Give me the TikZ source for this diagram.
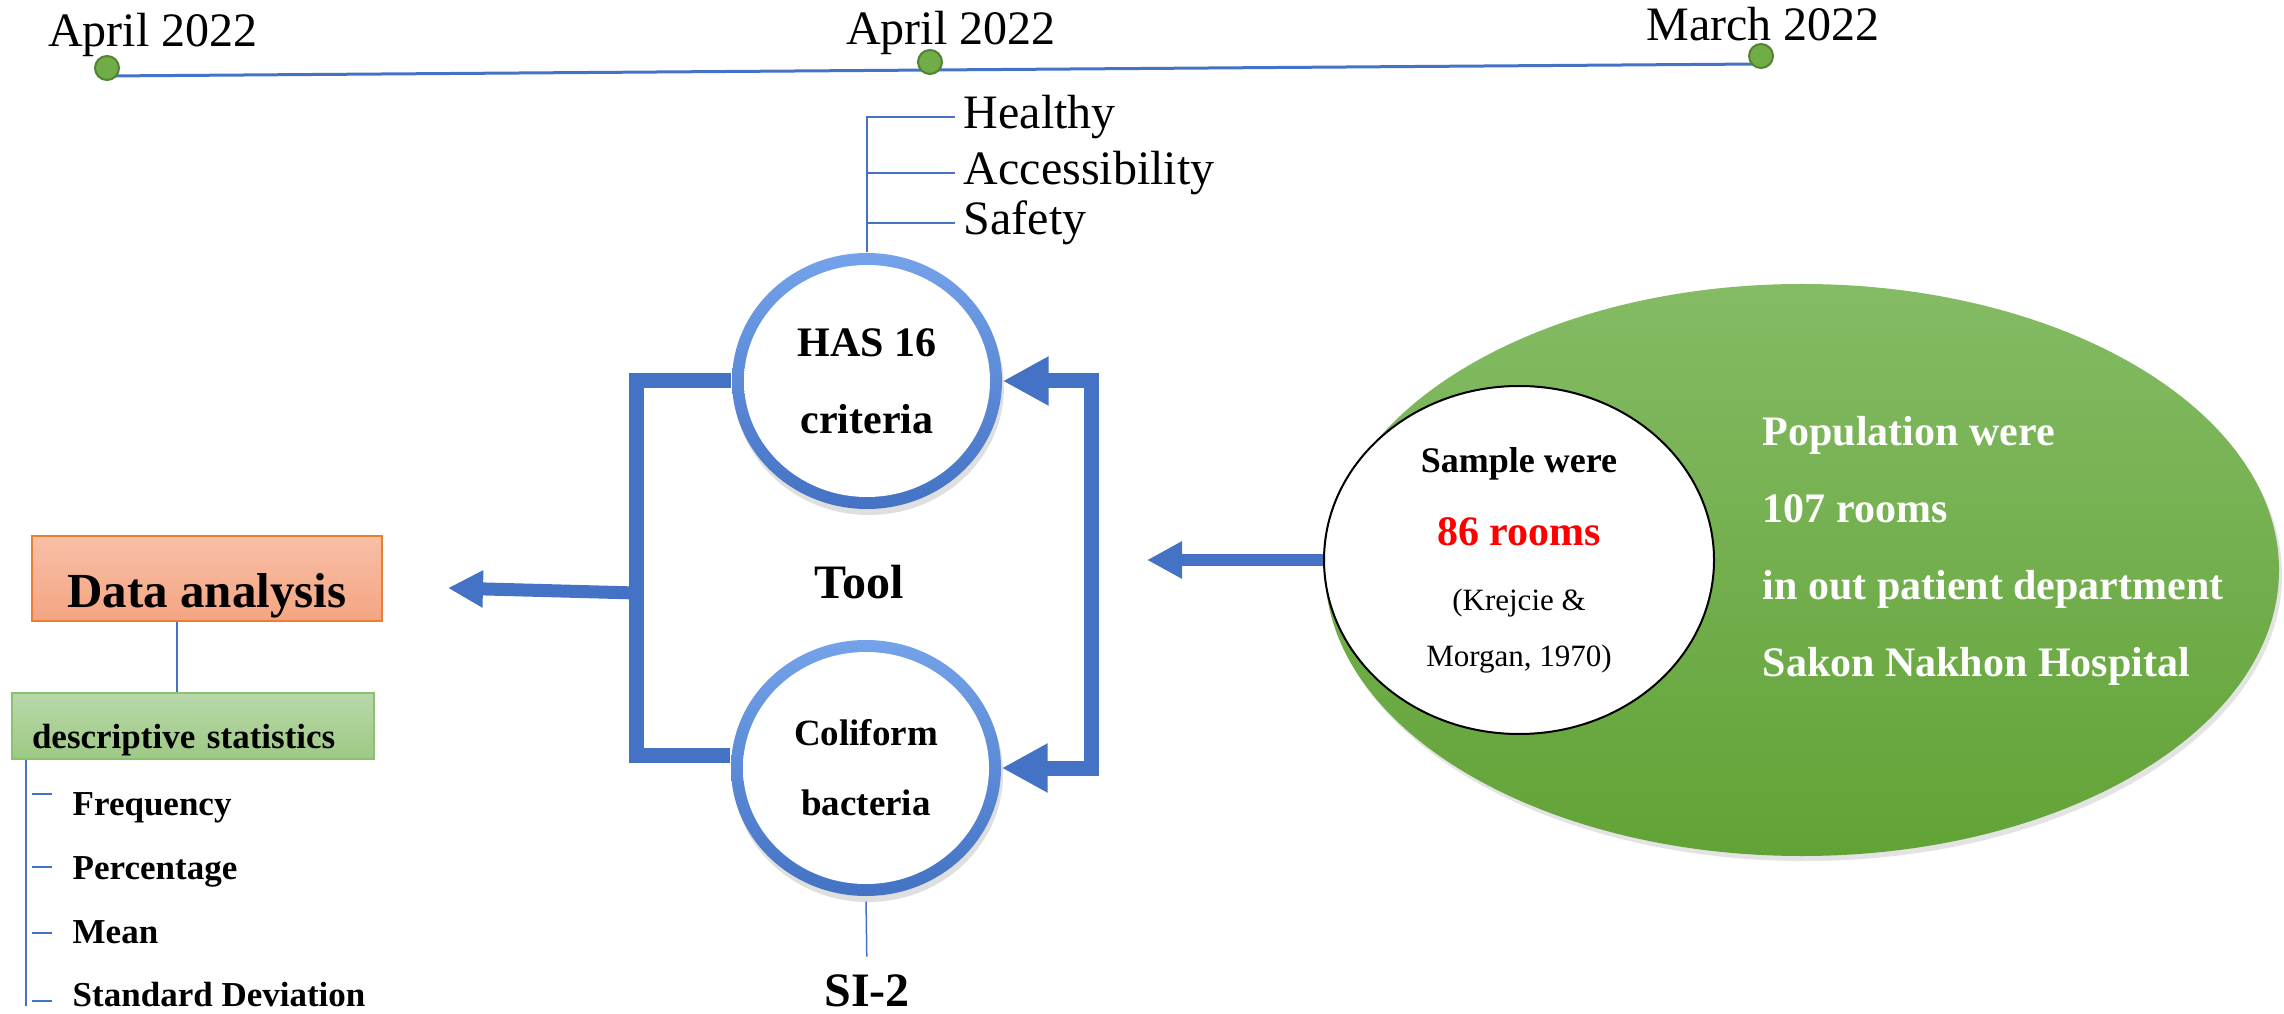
\documentclass[tikz,border=0pt]{standalone}
\usepackage{fontspec}
\setmainfont{Liberation Serif}
\usepackage{tikz}
\usetikzlibrary{arrows.meta,positioning,shapes.geometric,shadows}
\definecolor{lineblue}{RGB}{68,114,196}
\definecolor{ringtop}{RGB}{116,163,234}
\definecolor{dotgreen}{RGB}{112,173,71}
\definecolor{dotedge}{RGB}{84,130,53}
\definecolor{poptop}{RGB}{132,187,100}
\definecolor{popbot}{RGB}{98,163,55}
\definecolor{orangetop}{RGB}{248,191,166}
\definecolor{orangebot}{RGB}{244,165,130}
\definecolor{orangeedge}{RGB}{237,125,49}
\definecolor{greentop}{RGB}{184,216,170}
\definecolor{greenbot}{RGB}{158,201,132}
\definecolor{greenedge}{RGB}{140,193,112}
\definecolor{roomred}{RGB}{255,0,0}
\pgfdeclareradialshading{glass}{\pgfpoint{4bp}{6bp}}{color(0bp)=(white); color(34bp)=(white); color(50bp)=(black!16)}
\tikzset{
  ring/.style={ellipse, minimum width=2.70cm, minimum height=2.56cm, inner sep=0pt,
               top color=ringtop, bottom color=lineblue, align=center,
               drop shadow={opacity=0.25, shadow xshift=0.02cm, shadow yshift=-0.06cm},
               path picture={\shade[shading=glass] (path picture bounding box.center) ellipse [x radius=1.23cm, y radius=1.16cm];}},
  datebox/.style={font=\fontsize{13.66}{16}\selectfont, inner sep=0pt, anchor=base},
  crit/.style={font=\fontsize{13.66}{16}\selectfont, inner xsep=0.08cm, inner ysep=0pt, anchor=west},
  bigbold/.style={font=\bfseries\fontsize{13.66}{16}\selectfont, inner sep=0pt, anchor=base},
  dot/.style={circle, fill=dotgreen, draw=dotedge, line width=0.02cm, minimum size=0.24cm, inner sep=0pt},
  item/.style={font=\bfseries\fontsize{9.96}{12}\selectfont, inner sep=0pt, anchor=base west},
  bar/.style={lineblue, line width=0.15cm},
  flow/.style={lineblue, line width=0.13cm, -{Triangle[length=0.35cm,width=0.35cm]}},
  thinline/.style={lineblue, line width=0.015cm},
  listline/.style={lineblue, line width=0.025cm},
}

\begin{document}
\begin{tikzpicture}
        \useasboundingbox (0,0) rectangle (22.84,10.13);
        \fill[white] (0,0) rectangle (22.84,10.13);

        \coordinate (t1) at (1.07,9.37);
        \coordinate (t3) at (17.61,9.49);
        \draw[lineblue, line width=0.03cm] (t1) -- (t3);
        \node[dot] (d1) at (1.07,9.45) {};
        \node[dot] (d2) at (9.30,9.51) {};
        \node[dot] (d3) at (17.61,9.57) {};
        \node[datebox] (apr1) at (1.53,9.66) {April 2022};
        \node[datebox] (apr2) at (9.51,9.68) {April 2022};
        \node[datebox] (mar) at (17.63,9.72) {March 2022};

        \node[ring, font=\bfseries\fontsize{11.95}{21.9}\selectfont] (has) at (8.67,6.32) {HAS 16\\criteria};
        \node[ring, font=\bfseries\fontsize{10.53}{19.92}\selectfont] (coli) at (8.66,2.45) {Coliform\\bacteria};
        \node[bigbold] (tool) at (8.59,4.14) {Tool};
        \node[bigbold] (si) at (8.67,0.07) {SI-2};

        \node[crit] (healthy) at (9.55,8.96) {Healthy};
        \node[crit] (access) at (9.55,8.40) {Accessibility};
        \node[crit] (safety) at (9.55,7.90) {Safety};
        \draw[thinline] (has.north) -- (has.north |- healthy.west) -- (healthy.west);
        \draw[thinline] (has.north |- access.west) -- (access.west);
        \draw[thinline] (has.north |- safety.west) -- (safety.west);
        \draw[thinline, shorten <=0.05cm, shorten >=0.17cm] (coli.south) -- (si.north);

        \node[ellipse, minimum width=9.54cm, minimum height=5.72cm, inner sep=0pt,
              top color=poptop, bottom color=popbot,
              drop shadow={opacity=0.22, shadow xshift=0.03cm, shadow yshift=-0.05cm}] (pop) at (18.02,4.43) {};
        \node[anchor=west, align=left, inner sep=0pt, text=white,
              font=\bfseries\fontsize{11.95}{21.9}\selectfont] (poptxt) at (17.62,4.625)
              {Population were\\107 rooms\\in out patient department\\Sakon Nakhon Hospital};
        \node[ellipse, draw=black, line width=0.02cm, fill=white, minimum width=3.90cm, minimum height=3.48cm,
              inner sep=0pt, align=center, font=\fontsize{8.82}{15.93}\selectfont] (samp) at (15.19,4.53)
              {{\bfseries\fontsize{10.24}{12}\selectfont Sample were}\\[4.84pt]{\bfseries\fontsize{11.95}{14}\selectfont\color{roomred}86 rooms}\\[2.56pt]{\fontsize{8.82}{10}\selectfont (Krejcie \&}\\{\fontsize{8.82}{10}\selectfont Morgan, 1970)}};

        \node[draw=orangeedge, line width=0.02cm, top color=orangetop, bottom color=orangebot,
              minimum width=3.50cm, minimum height=0.85cm, inner sep=0pt, text height=0.69cm, text depth=0.10cm,
              font=\bfseries\fontsize{13.94}{16}\selectfont] (data) at (2.07,4.345) {Data analysis};
        \node[draw=greenedge, line width=0.02cm, top color=greentop, bottom color=greenbot,
              minimum width=3.62cm, minimum height=0.66cm, inner xsep=0.20cm, inner ysep=0pt,
              text width=3.22cm, align=left, text height=0.52cm, text depth=0.08cm,
              font=\bfseries\fontsize{9.96}{12}\selectfont] (desc) at (1.93,2.87) {descriptive statistics};
        \draw[listline] ([xshift=-0.30cm]data.south) -- ([xshift=-0.30cm]data.south |- desc.north);

        \foreach \nm/\txt/\by/\dy in {freq/Frequency/1.98/0.21, perc/Percentage/1.34/0.12,
                                      mean/Mean/0.70/0.10, sdev/Standard Deviation/0.07/0.05} {
          \node[item] (\nm) at (0.72,\by) {\txt};
          \draw[listline] ([xshift=-0.40cm, yshift=\dy cm]\nm.base west) -- ++(0.20,0);
        }
        \draw[listline] ([xshift=0.15cm]desc.south west) -- ([xshift=0.15cm]desc.south west |- sdev.base);

        \coordinate (lbar) at (6.36,4.20);
        \coordinate (rbar) at (10.91,5.00);
        \coordinate (datain) at (4.48,4.25);
        \coordinate (bracketin) at (11.47,4.53);
        \draw[bar] (has.west) -| (lbar) |- ([yshift=0.13cm]coli.west);
        \draw[bar, {Triangle[length=0.46cm,width=0.46cm]}-{Triangle[length=0.46cm,width=0.46cm]}] (has.east) -| (rbar) |- (coli.east);
        \draw[flow] (lbar) -- (datain);
        \draw[flow, line width=0.12cm] (samp.west) -- (bracketin);
      \end{tikzpicture}
\end{document}
